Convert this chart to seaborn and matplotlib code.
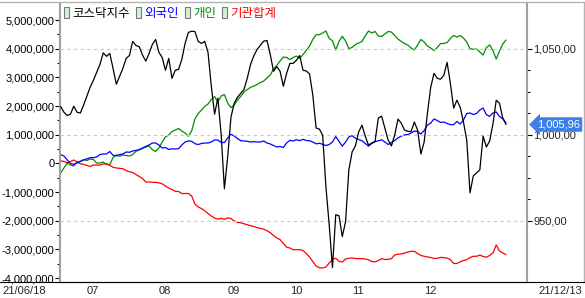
import numpy as np
import pandas as pd
import matplotlib
matplotlib.use("Agg")
import matplotlib.pyplot as plt
import matplotlib.transforms as mtransforms
from matplotlib.ticker import FixedLocator, FuncFormatter
from matplotlib.patches import Patch
from matplotlib.lines import Line2D
import seaborn as sns

# ---------------- data ----------------
series_names = ["코스닥지수", "외국인", "개인", "기관합계"]
series_colors = ["#000000", "#0000ff", "#008c00", "#ff0000"]

month_tick_days = [8, 30, 51, 70, 89, 111]
month_tick_labels = ["07", "08", "09", "10", "11", "12"]
start_label = "21/06/18"
end_label = "21/12/13"

# KOSDAQ index (right axis)
kosdaq = [1016.4, 1013.1, 1011.2, 1012.0, 1016.6, 1013.1, 1012.6, 1017.2, 1022.4, 1027.6,
          1031.7, 1036.3, 1040.9, 1047.6, 1045.6, 1047.3, 1038.6, 1029.4, 1034.0, 1038.6,
          1044.4, 1046.1, 1054.3, 1051.9, 1051.2, 1046.3, 1042.8, 1047.3, 1052.5, 1055.4,
          1047.9, 1045.0, 1037.5, 1044.4, 1032.8, 1037.5, 1038.0, 1043.8, 1053.1, 1059.5,
          1060.2, 1060.0, 1054.3, 1053.1, 1054.3, 1047.9, 1028.2, 1012.0, 1021.3, 1000.4,
          968.6, 987.1, 1010.2, 1018.4, 1021.8, 1024.1, 1026.4, 1033.0, 1040.9, 1046.0,
          1049.6, 1052.1, 1054.4, 1054.8, 1046.7, 1036.9, 1039.6, 1036.9, 1028.2, 1035.7,
          1041.5, 1041.5, 1043.3, 1046.1, 1037.5, 1037.1, 1035.4, 1023.0, 1003.9, 1003.3,
          999.8, 969.8, 947.6, 922.8, 953.5, 952.9, 940.8, 949.5, 979.6, 990.0,
          993.5, 1001.6, 1005.6, 999.2, 994.0, 995.2, 996.1, 1009.7, 1010.8, 1003.9,
          996.9, 993.5, 999.8, 1009.1, 1006.8, 1002.7, 1002.0, 1001.9, 1007.4, 1002.7,
          988.8, 995.8, 1012.6, 1027.6, 1035.7, 1032.8, 1032.3, 1034.6, 1042.1, 1029.9,
          1015.5, 1020.1, 1016.0, 1007.4, 996.9, 966.2, 976.1, 977.8, 979.6, 999.2,
          992.9, 996.4, 1006.2, 1020.1, 1018.3, 1009.7, 1005.96]

# cumulative net buying, millions (left axis)
foreign = [0.303, 0.258, 0.119, -0.003, -0.038, 0.014, 0.066, 0.119, 0.160, 0.199,
           0.202, 0.223, 0.310, 0.328, 0.328, 0.415, 0.283, 0.265, 0.310, 0.328,
           0.398, 0.387, 0.433, 0.453, 0.485, 0.537, 0.596, 0.642, 0.712, 0.712,
           0.642, 0.537, 0.555, 0.485, 0.509, 0.502, 0.513, 0.642, 0.746, 0.785,
           0.771, 0.687, 0.659, 0.694, 0.712, 0.712, 0.746, 0.816, 0.816, 0.729,
           0.729, 0.886, 1.015, 0.956, 0.869, 0.792, 0.781, 0.771, 0.746, 0.757,
           0.746, 0.746, 0.781, 0.712, 0.677, 0.624, 0.572, 0.590, 0.555, 0.712,
           0.806, 0.781, 0.827, 0.792, 0.841, 0.799, 0.792, 0.746, 0.683, 0.701,
           0.666, 0.624, 0.659, 0.746, 0.938, 0.771, 0.600, 0.746, 0.921, 0.966,
           0.879, 0.830, 0.792, 0.694, 0.600, 0.694, 0.757, 0.792, 0.823, 0.746,
           0.659, 0.729, 0.799, 0.886, 0.956, 0.991, 1.008, 1.060, 1.130, 1.113,
           1.025, 1.148, 1.339, 1.409, 1.549, 1.496, 1.427, 1.444, 1.392, 1.350,
           1.350, 1.461, 1.374, 1.514, 1.740, 1.758, 1.706, 1.740, 1.863, 1.932,
           1.699, 1.643, 1.758, 1.793, 1.636, 1.566, 1.409]

individual = [-0.335, -0.160, 0.014, -0.056, -0.091, 0.049, 0.073, 0.129, 0.101, 0.153,
              0.136, 0.014, 0.014, 0.049, -0.038, -0.045, 0.206, 0.293, 0.248, 0.293,
              0.276, 0.258, 0.310, 0.422, 0.467, 0.520, 0.572, 0.607, 0.478, 0.415,
              0.537, 0.746, 0.921, 0.991, 1.113, 1.165, 1.217, 1.130, 1.060, 0.945,
              1.130, 1.549, 1.740, 1.863, 1.985, 2.072, 2.229, 2.333, 2.142, 2.351,
              2.403, 2.107, 1.943, 2.037, 2.211, 2.340, 2.490, 2.578, 2.654, 2.700,
              2.752, 2.822, 2.874, 2.979, 3.083, 3.293, 3.415, 3.572, 3.711, 3.694,
              3.624, 3.694, 3.746, 3.659, 3.798, 3.938, 4.095, 4.322, 4.489, 4.489,
              4.548, 4.618, 4.357, 4.280, 3.955, 4.259, 4.433, 4.269, 4.008, 4.043,
              4.147, 4.199, 4.252, 4.444, 4.618, 4.548, 4.601, 4.444, 4.426, 4.513,
              4.601, 4.583, 4.461, 4.339, 4.252, 4.182, 4.130, 4.025, 3.955, 4.130,
              4.322, 4.234, 4.095, 4.025, 3.938, 4.043, 4.182, 4.182, 4.217, 4.357,
              4.461, 4.409, 4.461, 4.374, 4.234, 4.001, 3.980, 3.990, 3.886, 3.781,
              4.043, 4.130, 3.938, 3.640, 3.920, 4.165, 4.304]

institution = [0.094, 0.066, 0.024, 0.066, 0.119, 0.049, -0.010, -0.038, -0.073, -0.108,
               -0.056, -0.056, -0.056, -0.021, -0.010, -0.066, -0.136, -0.160, -0.171, -0.185,
               -0.248, -0.290, -0.317, -0.387, -0.457, -0.527, -0.649, -0.649, -0.656, -0.663,
               -0.677, -0.712, -0.788, -0.858, -0.910, -0.973, -0.980, -1.050, -1.050, -1.050,
               -1.137, -1.416, -1.521, -1.573, -1.653, -1.747, -1.835, -1.904, -1.946, -1.915,
               -1.950, -1.904, -1.922, -2.009, -2.054, -2.072, -2.107, -2.142, -2.177, -2.201,
               -2.243, -2.267, -2.295, -2.347, -2.417, -2.515, -2.602, -2.658, -2.794, -2.923,
               -2.951, -3.010, -3.010, -3.010, -3.038, -3.143, -3.265, -3.422, -3.579, -3.641,
               -3.648, -3.614, -3.474, -3.345, -3.310, -3.415, -3.439, -3.334, -3.310, -3.300,
               -3.317, -3.324, -3.324, -3.334, -3.359, -3.422, -3.432, -3.387, -3.324, -3.352,
               -3.348, -3.324, -3.195, -3.170, -3.160, -3.132, -3.090, -3.066, -3.066, -3.143,
               -3.212, -3.240, -3.265, -3.282, -3.317, -3.310, -3.279, -3.286, -3.303, -3.352,
               -3.491, -3.491, -3.432, -3.387, -3.359, -3.282, -3.240, -3.240, -3.195, -3.247,
               -3.272, -3.212, -3.125, -2.846, -3.056, -3.125, -3.185]

last_value = kosdaq[-1]
days = np.arange(len(kosdaq))
UNIT = 1_000_000

left_df = pd.DataFrame({
    "day": np.concatenate([days, days, days]),
    "value": np.concatenate([np.array(individual), np.array(institution), np.array(foreign)]) * UNIT,
    "series": [series_names[2]] * len(days) + [series_names[3]] * len(days) + [series_names[1]] * len(days),
})
right_df = pd.DataFrame({"day": days, "value": kosdaq})
palette = dict(zip(series_names, series_colors))

# ---------------- figure ----------------
sns.set_style("white")
plt.rcParams["font.family"] = ["Liberation Sans", "Noto Sans CJK KR", "DejaVu Sans"]
FS = 8.0

W, H = 585, 298
fig = plt.figure(figsize=(W / 100, H / 100), dpi=100)
fig.patch.set_facecolor("white")
ax1 = fig.add_axes([60 / W, 16 / H, 467 / W, 279 / H])
ax2 = ax1.twinx()

sns.lineplot(data=left_df, x="day", y="value", hue="series", palette=palette,
             hue_order=[series_names[2], series_names[3], series_names[1]],
             estimator=None, sort=False, legend=False, linewidth=0.9, ax=ax1)
sns.lineplot(data=right_df, x="day", y="value", color=palette[series_names[0]],
             estimator=None, sort=False, legend=False, linewidth=0.9, ax=ax2)

ax1.set_xlim(-0.2, 142.4)
ax1.set_ylim(-4.137 * UNIT, 5.595 * UNIT)
ax2.set_ylim(914.4, 1076.6)
for ax in (ax1, ax2):
    ax.set_xlabel("")
    ax.set_ylabel("")

# left axis ticks
ax1.yaxis.set_major_locator(FixedLocator(np.arange(-4, 6) * UNIT))
ax1.yaxis.set_minor_locator(FixedLocator((np.arange(-4, 5) + 0.5) * UNIT))
ax1.yaxis.set_major_formatter(FuncFormatter(lambda v, p: f"{int(round(v)):,}"))
ax1.tick_params(axis="y", which="major", direction="out", length=3.5, width=0.8,
                color="black", pad=0.5, labelsize=FS, labelcolor="black")
ax1.tick_params(axis="y", which="minor", direction="out", length=2.5, width=0.8, color="black")

# x ticks
ax1.set_xticks(month_tick_days)
ax1.set_xticklabels(month_tick_labels)
ax1.tick_params(axis="x", direction="out", length=3, width=0.8, color="black",
                pad=0.2, labelsize=FS)
for lbl in ax1.get_xticklabels():
    lbl.set_horizontalalignment("left")

# right axis ticks
ax2.yaxis.set_major_locator(FixedLocator([950, 1000, 1050]))
ax2.yaxis.set_minor_locator(FixedLocator([962.5, 975, 987.5, 1012.5, 1025, 1037.5]))
ax2.yaxis.set_major_formatter(FuncFormatter(lambda v, p: f"{v:,.2f}".replace(".", ",")))
ax2.tick_params(axis="y", which="major", direction="out", length=3.5, width=0.8,
                color="black", pad=1, labelsize=FS)
ax2.tick_params(axis="y", which="minor", direction="out", length=2.5, width=0.8, color="black")
ax2.grid(axis="y", which="major", linestyle=(0, (3, 3)), color="#c8c8c8", linewidth=0.8)
ax1.grid(False)
ax2.set_axisbelow(True)

# spines
for ax in (ax1, ax2):
    ax.spines["top"].set_visible(False)
ax1.spines["right"].set_visible(False)
ax2.spines["left"].set_visible(False)
ax2.spines["bottom"].set_visible(False)
ax1.spines["left"].set_color("#a0a0a0")
ax1.spines["left"].set_linewidth(1.5)
ax2.spines["right"].set_color("#a0a0a0")
ax2.spines["right"].set_linewidth(1.5)
ax1.spines["bottom"].set_color("black")
ax1.spines["bottom"].set_linewidth(0.8)

# outer frame lines
fig.add_artist(Line2D([0, 1], [1 - 2 / H, 1 - 2 / H], color="#b4b4b4", lw=1.0, transform=fig.transFigure))
fig.add_artist(Line2D([583.5 / W, 583.5 / W], [16 / H, 1 - 2 / H], color="#b4b4b4", lw=1.0, transform=fig.transFigure))
fig.add_artist(Line2D([0, 1], [16 / H, 16 / H], color="black", lw=0.8, transform=fig.transFigure))

# date end labels
fig.text(2 / W, 1 - 291 / H, start_label, ha="left", va="center", fontsize=FS)
fig.text(582 / W, 1 - 291 / H, end_label, ha="right", va="center", fontsize=FS)

# legend
handles = [Patch(facecolor="#d2f2d2", edgecolor="#7a7a7a", linewidth=0.8) for _ in series_names]
leg = ax2.legend(handles, series_names, loc="upper left", bbox_to_anchor=(0.0, 1.0),
                 ncol=4, frameon=False, handlelength=0.4, handleheight=1.0,
                 handletextpad=0.3, columnspacing=0.45, borderaxespad=0.1, borderpad=0.2,
                 prop={"family": ["Noto Sans CJK KR", "DejaVu Sans"], "size": 9},
                 labelcolor=series_colors)
leg.set_zorder(10)

# last value tag
trans = mtransforms.blended_transform_factory(ax2.transAxes, ax2.transData)
ax2.text(1.0 + (537 - 527) / 467, last_value, f"{last_value:,.2f}".replace(".", ","),
         transform=trans, ha="left", va="center", color="white", fontsize=FS,
         bbox=dict(boxstyle="larrow,pad=0.2", fc="#3c7fe6", ec="none"), clip_on=False, zorder=11)

fig.savefig("out.png", dpi=100)
